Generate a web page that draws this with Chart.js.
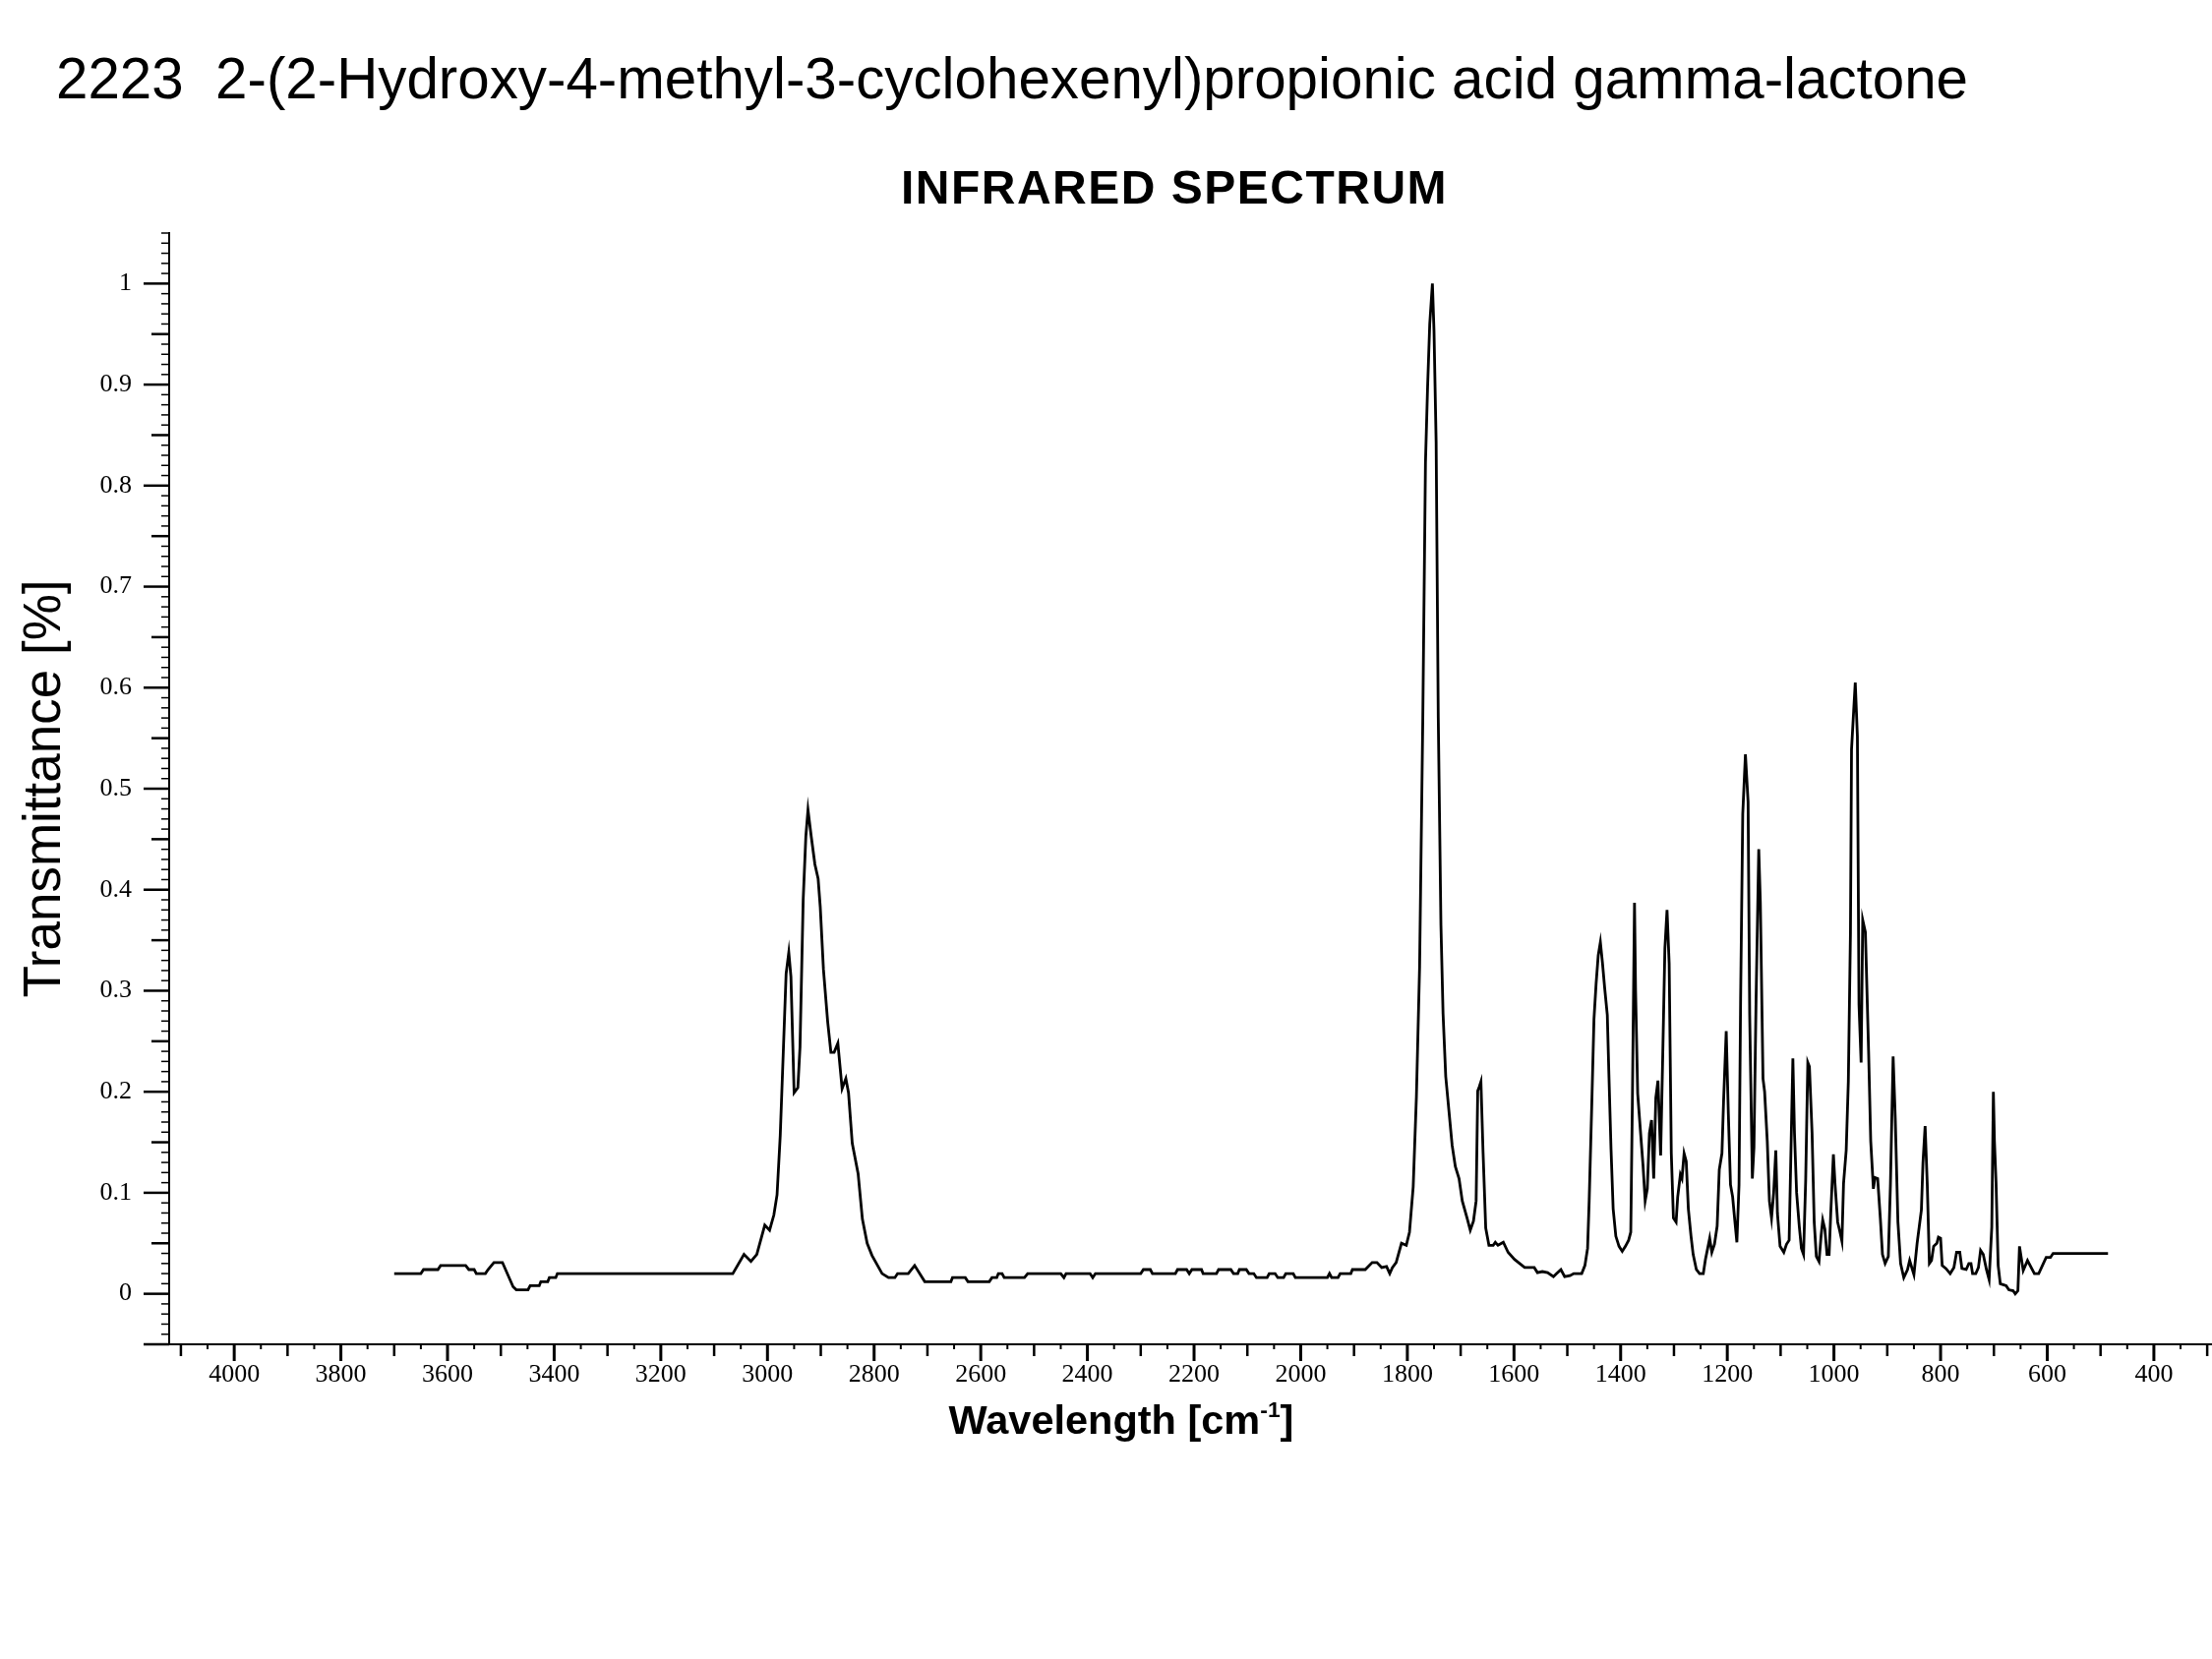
<!DOCTYPE html>
<html>
<head>
<meta charset="utf-8">
<title>Infrared spectrum</title>
<script src="https://cdn.jsdelivr.net/npm/chart.js@4.4.1/dist/chart.umd.min.js"></script>
<style>
  html, body { margin: 0; padding: 0; background: #fff; }
  #page { position: relative; width: 2249px; height: 1687px; overflow: hidden; color: #000;
          font-family: "Liberation Sans", Arial, sans-serif; }
  #ir-chart { position: absolute; left: 0; top: 0; }
  .label { position: absolute; white-space: nowrap; line-height: 1; }
  #main-title { left: 57px; top: 51px; font-size: 58.3px; }
  #sub-title { left: 1194px; top: 167px; font-size: 48px; font-weight: bold; letter-spacing: 1.5px; transform: translateX(-50%); }
  #x-title { left: 1140px; top: 1423px; font-size: 41.5px; font-weight: bold; transform: translateX(-50%); }
  #x-title sup { font-size: 0.55em; line-height: 0; vertical-align: 0.75em; }
</style>
</head>
<body>
<div id="page">
  <canvas id="ir-chart" width="2249" height="1687"></canvas>
  <div class="label" id="main-title">2223&nbsp; 2-(2-Hydroxy-4-methyl-3-cyclohexenyl)propionic acid gamma-lactone</div>
  <div class="label" id="sub-title">INFRARED SPECTRUM</div>
  <div class="label" id="x-title">Wavelength [cm<sup>-1</sup>]</div>
</div>
<script>
// wavenumber (cm-1) from left to right
const wavenumbers = [
  3700, 3650, 3645, 3618, 3613, 3566, 3560, 3550, 3546, 3529, 3524, 3513, 3497, 3477, 3471, 3449,
  3445, 3428, 3425, 3412, 3409, 3397, 3394,
  3065, 3044, 3031, 3020, 3005, 2996, 2988, 2982, 2976, 2970, 2965, 2960, 2956, 2950, 2943, 2939,
  2933, 2928, 2924, 2918, 2911, 2905, 2901, 2895, 2887, 2881, 2875, 2868, 2860, 2853, 2848, 2841,
  2830, 2822, 2813, 2804, 2785, 2773, 2761, 2756, 2736, 2724, 2705,
  2656, 2653, 2629, 2624, 2584, 2579, 2570, 2567, 2560, 2556, 2518, 2512, 2450, 2444, 2440, 2395,
  2390, 2385, 2300, 2295, 2282, 2278, 2235, 2231, 2214, 2209, 2204, 2186, 2183, 2158, 2154, 2131,
  2126, 2118, 2115, 2102, 2097, 2088, 2083, 2063, 2059, 2048, 2043, 2032, 2028, 2014, 2010, 1950,
  1946, 1942, 1930, 1926, 1906, 1903, 1879, 1866, 1857, 1848, 1839, 1833, 1828, 1821,
  1811, 1802, 1796, 1789, 1783, 1777, 1771, 1766, 1762, 1758, 1753, 1750, 1746, 1742, 1737, 1733,
  1728, 1722, 1716, 1710, 1703, 1697, 1688, 1682, 1676, 1671, 1668, 1665, 1662, 1658, 1653, 1647,
  1639, 1635, 1630, 1620, 1611, 1599, 1580, 1562, 1556, 1547, 1537, 1526, 1520, 1512, 1505, 1495,
  1488,
  1473, 1467, 1462, 1459, 1454, 1450, 1446, 1442, 1438, 1434, 1430, 1425, 1422, 1418, 1414, 1409,
  1403, 1397, 1391, 1385, 1381, 1378, 1374, 1372, 1368, 1362, 1358, 1354, 1350, 1346, 1342, 1338,
  1334, 1330, 1325, 1321, 1317, 1313, 1309, 1305, 1301, 1296, 1293, 1288, 1285, 1281, 1277, 1273,
  1268, 1264, 1258, 1252, 1245, 1241, 1236, 1233, 1229, 1224, 1219, 1215, 1210, 1207, 1202, 1198,
  1194, 1190, 1186, 1182, 1178, 1175, 1171, 1166, 1161, 1158, 1153, 1150, 1146, 1141, 1138, 1133,
  1130, 1125, 1121, 1117, 1113, 1109, 1106, 1101, 1094, 1089, 1084, 1081, 1077, 1074, 1070, 1065,
  1061, 1057, 1053, 1049, 1046,
  1041, 1037, 1033, 1028, 1024, 1021, 1017, 1013, 1009, 1006, 1001, 998, 993, 989, 985, 982,
  977, 973, 969, 967, 963, 960, 956, 953, 949, 946, 941, 935, 931, 926, 923, 918,
  913, 909, 904, 898, 894, 889, 885, 880, 875, 869, 862, 858, 850, 844, 836, 833,
  829, 825, 821, 817, 813, 807, 804, 800, 797, 790, 782, 775, 770, 764, 760, 752,
  747, 743, 740, 734, 729, 725, 720, 714, 709, 704, 701, 699, 696, 692, 688, 677,
  672, 664, 660, 655, 652, 645, 637, 624, 616, 602, 594, 589, 486
];

const transmittance = [
  0.020, 0.020, 0.024, 0.024, 0.028, 0.028, 0.024, 0.024, 0.020, 0.020, 0.024, 0.031, 0.031, 0.007, 0.004, 0.004,
  0.008, 0.008, 0.012, 0.012, 0.016, 0.016, 0.020,
  0.020, 0.039, 0.032, 0.039, 0.068, 0.063, 0.078, 0.098, 0.157, 0.244, 0.317, 0.338, 0.314, 0.199, 0.204, 0.244,
  0.390, 0.453, 0.479, 0.453, 0.425, 0.411, 0.383, 0.321, 0.269, 0.239, 0.239, 0.248, 0.203, 0.213, 0.199, 0.149,
  0.119, 0.074, 0.050, 0.038, 0.020, 0.016, 0.016, 0.020, 0.020, 0.028, 0.012,
  0.012, 0.016, 0.016, 0.012, 0.012, 0.016, 0.016, 0.020, 0.020, 0.016, 0.016, 0.020, 0.020, 0.016, 0.020, 0.020,
  0.016, 0.020, 0.020, 0.024, 0.024, 0.020, 0.020, 0.024, 0.024, 0.020, 0.024, 0.024, 0.020, 0.020, 0.024, 0.024,
  0.020, 0.020, 0.024, 0.024, 0.020, 0.020, 0.016, 0.016, 0.020, 0.020, 0.016, 0.016, 0.020, 0.020, 0.016, 0.016,
  0.020, 0.016, 0.016, 0.020, 0.020, 0.024, 0.024, 0.031, 0.031, 0.026, 0.027, 0.020, 0.026, 0.031,
  0.050, 0.048, 0.061, 0.106, 0.195, 0.324, 0.570, 0.823, 0.898, 0.960, 1.000, 0.953, 0.843, 0.570, 0.365, 0.277,
  0.215, 0.181, 0.147, 0.126, 0.114, 0.092, 0.075, 0.063, 0.072, 0.092, 0.201, 0.205, 0.210, 0.140, 0.065, 0.048,
  0.048, 0.051, 0.048, 0.051, 0.041, 0.034, 0.026, 0.026, 0.021, 0.022, 0.021, 0.017, 0.020, 0.024, 0.017, 0.018,
  0.020,
  0.020, 0.028, 0.045, 0.092, 0.190, 0.272, 0.307, 0.335, 0.348, 0.327, 0.303, 0.276, 0.217, 0.143, 0.084, 0.057,
  0.047, 0.042, 0.047, 0.053, 0.061, 0.190, 0.387, 0.300, 0.198, 0.155, 0.127, 0.092, 0.104, 0.159, 0.172, 0.114,
  0.194, 0.211, 0.137, 0.237, 0.342, 0.380, 0.327, 0.139, 0.075, 0.071, 0.096, 0.118, 0.114, 0.139, 0.131, 0.084,
  0.057, 0.039, 0.024, 0.020, 0.020, 0.034, 0.047, 0.055, 0.041, 0.049, 0.067, 0.123, 0.139, 0.190, 0.260, 0.178,
  0.108, 0.096, 0.073, 0.051, 0.108, 0.292, 0.475, 0.534, 0.487, 0.276, 0.114, 0.145, 0.292, 0.440, 0.387, 0.213,
  0.200, 0.151, 0.092, 0.075, 0.100, 0.142, 0.080, 0.047, 0.041, 0.049, 0.053, 0.131, 0.233, 0.159, 0.100, 0.067,
  0.045, 0.039, 0.112, 0.229, 0.225,
  0.159, 0.071, 0.037, 0.032, 0.058, 0.073, 0.064, 0.039, 0.039, 0.079, 0.138, 0.109, 0.071, 0.062, 0.052, 0.109,
  0.142, 0.210, 0.358, 0.539, 0.577, 0.605, 0.552, 0.286, 0.229, 0.370, 0.358, 0.240, 0.151, 0.104, 0.115, 0.114,
  0.075, 0.039, 0.030, 0.037, 0.109, 0.235, 0.174, 0.071, 0.030, 0.016, 0.024, 0.033, 0.019, 0.050, 0.083, 0.130,
  0.166, 0.109, 0.030, 0.033, 0.047, 0.050, 0.056, 0.055, 0.028, 0.025, 0.020, 0.026, 0.041, 0.041, 0.025, 0.024,
  0.030, 0.030, 0.020, 0.020, 0.026, 0.043, 0.039, 0.024, 0.014, 0.066, 0.200, 0.151, 0.110, 0.028, 0.010, 0.008,
  0.004, 0.003, 0.000, 0.003, 0.047, 0.023, 0.033, 0.020, 0.020, 0.036, 0.036, 0.040, 0.040
];

const xTickLabels = ["4000", "3800", "3600", "3400", "3200", "3000", "2800", "2600", "2400",
  "2200", "2000", "1800", "1600", "1400", "1200", "1000", "800", "600", "400"];
const yTickLabels = ["0", "0.1", "0.2", "0.3", "0.4", "0.5", "0.6", "0.7", "0.8", "0.9", "1"];

const black = "#000000";
const serif = "'Liberation Serif', 'Times New Roman', serif";
const sans = "'Liberation Sans', Arial, sans-serif";

const points = wavenumbers.map((w, i) => ({ x: w, y: transmittance[i] }));

// small/medium/large tick marks on both axes, like the printed spectrum
const axisTicks = {
  id: "axisTicks",
  afterDraw(chart) {
    const ctx = chart.ctx;
    const area = chart.chartArea;
    const xs = chart.scales.x;
    const ys = chart.scales.y;
    ctx.save();
    ctx.strokeStyle = black;
    for (let k = -5; k <= 105; k++) {
      const py = ys.getPixelForValue(k / 100);
      let len = 8;
      let lw = 1.5;
      if (k % 10 === 0 || k === -5) { len = 26; lw = 2.5; }
      else if (k % 5 === 0 && k !== 105) { len = 18; lw = 2.5; }
      ctx.lineWidth = lw;
      ctx.beginPath();
      ctx.moveTo(area.left - len, py);
      ctx.lineTo(area.left, py);
      ctx.stroke();
    }
    for (let wn = 4100; wn >= 300; wn -= 50) {
      const px = xs.getPixelForValue(wn);
      let len = 5;
      let lw = 2;
      if (wn % 200 === 0) { len = 17; lw = 3; }
      else if (wn % 100 === 0) { len = 12; lw = 2.5; }
      ctx.lineWidth = lw;
      ctx.beginPath();
      ctx.moveTo(px, area.bottom);
      ctx.lineTo(px, area.bottom + len);
      ctx.stroke();
    }
    ctx.restore();
  }
};

new Chart(document.getElementById("ir-chart"), {
  type: "line",
  data: {
    datasets: [
      {
        data: points,
        borderColor: black,
        borderWidth: 2.8,
        pointRadius: 0,
        tension: 0,
        fill: false
      }
    ]
  },
  options: {
    responsive: false,
    animation: false,
    layout: { padding: { top: 237, right: 0, bottom: 0, left: 0 } },
    plugins: {
      legend: { display: false },
      tooltip: { enabled: false }
    },
    scales: {
      x: {
        type: "linear",
        reverse: true,
        min: 291,
        max: 4122,
        afterFit: (scale) => { scale.height = 320; },
        afterBuildTicks: (scale) => {
          scale.ticks = xTickLabels.map((t) => ({ value: Number(t) }));
        },
        ticks: {
          color: black,
          font: { family: serif, size: 26 },
          padding: 16,
          maxRotation: 0,
          autoSkip: false,
          callback: (v, i) => xTickLabels[i]
        },
        grid: { display: false, drawTicks: false },
        border: { display: true, color: black, width: 2 }
      },
      y: {
        min: -0.05,
        max: 1.05,
        afterFit: (scale) => { scale.width = 172; },
        afterBuildTicks: (scale) => {
          scale.ticks = yTickLabels.map((t) => ({ value: Number(t) }));
        },
        ticks: {
          color: black,
          font: { family: serif, size: 26 },
          padding: 38,
          autoSkip: false,
          callback: (v, i) => yTickLabels[i]
        },
        title: {
          display: true,
          text: "Transmittance [%]",
          color: black,
          font: { family: sans, size: 53 },
          padding: { top: 15, bottom: 0 }
        },
        grid: { display: false, drawTicks: false },
        border: { display: true, color: black, width: 2 }
      }
    }
  },
  plugins: [axisTicks]
});
</script>
</body>
</html>
